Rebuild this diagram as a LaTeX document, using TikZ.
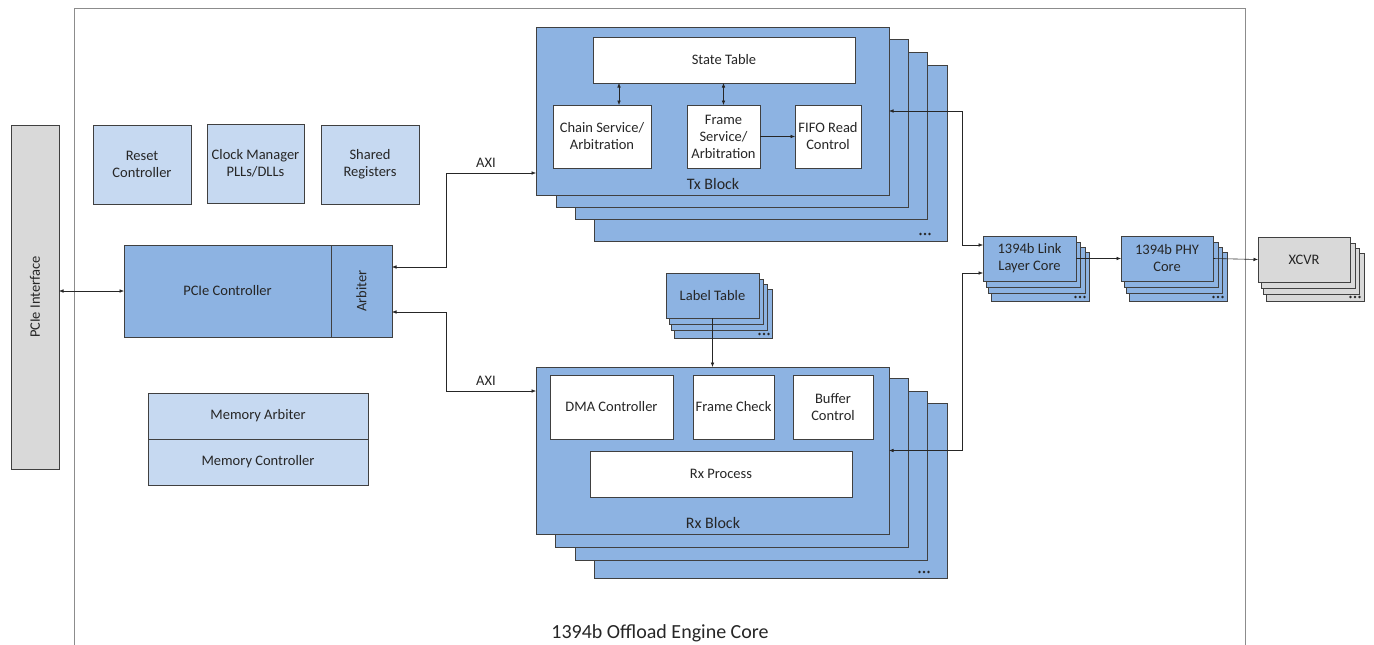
\documentclass[tikz,border=0pt]{standalone}
\usepackage{fontspec}
\setmainfont{Carlito}
\usetikzlibrary{arrows.meta,shadows}
\definecolor{bfill}{HTML}{8DB3E2}
\definecolor{lfill}{HTML}{C6D9F1}
\definecolor{gfill}{HTML}{D9D9D9}
\definecolor{edgec}{HTML}{404040}
\definecolor{framec}{HTML}{8C8C8C}
\definecolor{txtc}{HTML}{262626}
\tikzset{
  box/.style={draw=edgec, line width=0.7pt, anchor=north west, inner sep=0pt, outer sep=0pt,
    align=center, text=txtc, drop shadow={shadow xshift=1.2pt, shadow yshift=-1.2pt, fill=black, opacity=0.18}},
  bbox/.style={box, fill=bfill},
  lbox/.style={box, fill=lfill},
  wbox/.style={box, fill=white},
  gbox/.style={box, fill=gfill},
  stackb/.style={draw=edgec, line width=0.7pt, fill=bfill},
  stackg/.style={draw=edgec, line width=0.7pt, fill=gfill},
  conn/.style={line width=0.6pt, draw=black!85},
  lbl/.style={text=txtc, inner sep=0pt},
  blklbl/.style={lbl, font=\fontsize{16}{19}\selectfont},
  >={Latex[length=4.5pt,width=3.6pt]}
}
\newcommand\tridots[2]{\fill[black!85] (#1-4.5,#2) circle (1.4) (#1,#2) circle (1.4) (#1+4.5,#2) circle (1.4);}
\newcommand\stk[5]{\filldraw[#1] (#2,#3) rectangle (#4,#5);}
\begin{document}
\begin{tikzpicture}[x=1pt,y=-1pt,font=\fontsize{14.5}{17}\selectfont]
\useasboundingbox (0,0) rectangle (1374,645);
\fill[white] (0,0) rectangle (1374,645);
% outer frame
\draw[framec, line width=0.9pt] (74,650) -- (74,8) -- (1245,8) -- (1245,650);
\node[lbl, font=\fontsize{20}{24}\selectfont] (title) at (660,633) {1394b Offload Engine Core};

% PCIe interface
\node[gbox, minimum width=48pt, minimum height=344pt] (pcie) at (11,125) {};
\node[lbl, rotate=90] (pcietxt) at (pcie.center) {PCIe Interface};

% top small boxes
\node[lbox, minimum width=98pt, minimum height=79pt] (reset) at (93,125) {Reset\\Controller};
\node[lbox, minimum width=97pt, minimum height=79pt] (clock) at (207,124) {Clock Manager\\PLLs/DLLs};
\node[lbox, minimum width=98pt, minimum height=79pt] (shared) at (321,125) {Shared\\Registers};

% PCIe controller + arbiter
\node[bbox, minimum width=207pt, minimum height=92pt] (pcictrl) at (124,245) {PCIe Controller};
\node[bbox, minimum width=61pt, minimum height=92pt] (arb) at (331,245) {};
\node[lbl, rotate=90] (arbtxt) at (arb.center) {Arbiter};

% memory
\node[lbox, minimum width=220pt, minimum height=46pt] (memarb) at (148,393) {Memory Arbiter};
\node[lbox, minimum width=220pt, minimum height=46pt] (memctl) at (148,439) {Memory Controller};

% Tx block stack
\stk{stackb}{594}{65}{947}{241}
\stk{stackb}{575}{52}{927}{219}
\stk{stackb}{556}{39}{908}{207}
\tridots{925}{234}
\node[bbox, minimum width=353pt, minimum height=168pt] (tx) at (536,27) {};
\node[blklbl] (txlbl) at (713,184) {Tx Block};
\node[wbox, minimum width=262pt, minimum height=46pt] (st) at (593,37) {State Table};
\node[wbox, minimum width=98pt, minimum height=63pt] (chain) at (553,105) {Chain Service/\\Arbitration};
\node[wbox, minimum width=73pt, minimum height=63pt] (frame) at (687,105) {Frame\\Service/\\Arbitration};
\node[wbox, minimum width=66pt, minimum height=63pt] (fifo) at (795,105) {FIFO Read\\Control};

% Label table stack
\stk{stackb}{674}{289}{772}{338}
\stk{stackb}{671}{284}{767}{330}
\stk{stackb}{669}{279}{763}{324}
\tridots{764}{334}
\node[bbox, minimum width=93pt, minimum height=45pt] (label) at (666,273) {Label Table};

% Rx block stack
\stk{stackb}{594}{403}{947}{578}
\stk{stackb}{575}{391}{927}{560}
\stk{stackb}{555}{378}{908}{547}
\tridots{924}{572}
\node[bbox, minimum width=353pt, minimum height=167pt] (rx) at (536,367) {};
\node[blklbl] (rxlbl) at (713,523) {Rx Block};
\node[wbox, minimum width=123pt, minimum height=64pt] (dma) at (550,375) {DMA Controller};
\node[wbox, minimum width=81pt, minimum height=64pt] (fchk) at (693,375) {Frame Check};
\node[wbox, minimum width=80pt, minimum height=64pt] (buf) at (793,375) {Buffer\\Control};
\node[wbox, minimum width=262pt, minimum height=46pt] (rxp) at (590,451) {Rx Process};

% Link layer stack
\stk{stackb}{991}{252}{1089}{301}
\stk{stackb}{988}{247}{1085}{293}
\stk{stackb}{986}{242}{1080}{287}
\tridots{1080}{297}
\node[bbox, minimum width=93pt, minimum height=45pt] (link) at (983,236) {1394b Link\\Layer Core};

% PHY stack
\stk{stackb}{1129}{252}{1227}{301}
\stk{stackb}{1126}{247}{1222}{293}
\stk{stackb}{1124}{242}{1218}{287}
\tridots{1218}{297}
\node[bbox, minimum width=92pt, minimum height=45pt] (phy) at (1121,236) {1394b PHY\\Core};

% XCVR stack
\stk{stackg}{1266}{253}{1364}{301}
\stk{stackg}{1263}{248}{1359}{294}
\stk{stackg}{1261}{243}{1355}{288}
\tridots{1355}{297}
\node[gbox, minimum width=92pt, minimum height=45pt] (xcvr) at (1258,237) {XCVR};

% connectors
\draw[conn, <->] (pcie.east |- pcictrl.west) -- (pcictrl.west);
\draw[conn, <->] ([yshift=24pt]arb.east) -- ++(54,0) |- ([yshift=-62pt]tx.west);
\node[lbl] (axi1) at (486,163) {AXI};
\draw[conn, <->] ([yshift=-21pt]arb.east) -- ++(54,0) |- ([yshift=59.5pt]rx.west);
\node[lbl] (axi2) at (486,381) {AXI};

\draw[conn, <->] ([xshift=17pt]chain.north) -- ([xshift=17pt]chain.north |- st.south);
\draw[conn, <->] (frame.north) -- (frame.north |- st.south);
\draw[conn, ->] (frame.east) -- (fifo.west);

\draw[conn, ->] (label.south) -- (label.south |- rx.north);

\draw[conn, <->] ([yshift=13.5pt]link.west) -- ++(-21,0) |- (tx.east);
\draw[conn, <->] ([yshift=-14.5pt]link.west) -- ++(-21,0) |- (rx.east);

\draw[conn, ->] (link.east) -- (phy.west);
\draw[conn, ->] (phy.east) -- (xcvr.west);
\end{tikzpicture}
\end{document}
